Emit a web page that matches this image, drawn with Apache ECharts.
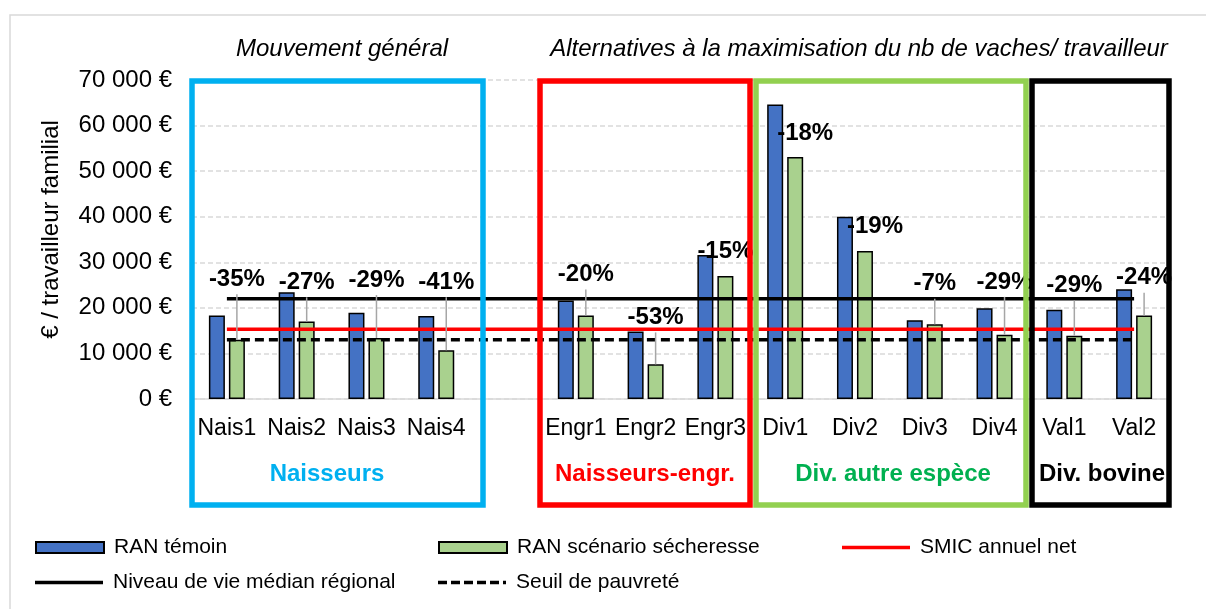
<!DOCTYPE html>
<html lang="fr">
<head>
<meta charset="utf-8">
<title>Revenu disponible par travailleur familial</title>
<script src="https://cdn.jsdelivr.net/npm/echarts@6/dist/echarts.min.js"></script>
<style>
  html, body { margin: 0; padding: 0; background: #ffffff; }
  #chart { width: 1206px; height: 609px; }
</style>
</head>
<body>
<div id="chart"></div>
<script>
// ---- Données ----
const categories = ['Nais1', 'Nais2', 'Nais3', 'Nais4', '', 'Engr1', 'Engr2', 'Engr3',
                    'Div1', 'Div2', 'Div3', 'Div4', 'Val1', 'Val2'];
// Revenu disponible (€ / travailleur familial)
const ranTemoin     = [18300, 23400, 18900, 18200, null, 21600, 14800, 31600, 64600, 40000, 17300, 19900, 19600, 24100];
const ranSecheresse = [13000, 17000, 13400, 10700, null, 18300,  7600, 27000, 53100, 32500, 16400, 14100, 13900, 18300];
// Références de revenu
const smicNet         = [15300, 15300, 15300, 15300, 15300, 15300, 15300, 15300, 15300, 15300, 15300, 15300, 15300, 15300];
const niveauVieMedian = [22000, 22000, 22000, 22000, 22000, 22000, 22000, 22000, 22000, 22000, 22000, 22000, 22000, 22000];
const seuilPauvrete   = [13000, 13000, 13000, 13000, 13000, 13000, 13000, 13000, 13000, 13000, 13000, 13000, 13000, 13000];
// Écart du scénario sécheresse par rapport au témoin
const ecarts = ['-35%', '-27%', '-29%', '-41%', null, '-20%', '-53%', '-15%', '-18%', '-19%', '-7%', '-29%', '-29%', '-24%'];

// ---- Mise en page des étiquettes d'écart (hauteur de l'étiquette, en €) ----
const hauteurEtiquette = [26300, 25600, 26100, 25600, null, 27300, 17900, 32400, 58200, 37800, 25300, 25700, 24900, 26600];

const FONT = '"Liberation Sans", Arial, sans-serif';
const BAR_W = 16, BAR_GAP = 4;

// Pictogrammes de légende pour les séries en trait
const ICON_TRAIT = 'path://M0,0H68V3.5H0Z';
const ICON_TIRETS = 'path://M0,0H9V3.5H0Z M13,0H22V3.5H13Z M26,0H35V3.5H26Z M39,0H48V3.5H39Z M52,0H61V3.5H52Z M65,0H68V3.5H65Z';

function euros(v) {
  return String(v).replace(/\B(?=(\d{3})+(?!\d))/g, ' ') + ' €';
}

const chart = echarts.init(document.getElementById('chart'), null, { renderer: 'canvas' });

const etiquettes = categories.map((c, i) => [i, ranSecheresse[i], hauteurEtiquette[i], ranTemoin[i]]);

function renderEcart(params, api) {
  const i = api.value(0);
  const txt = ecarts[i];
  if (txt == null) return null;
  const barTop = api.coord([i, api.value(1)]);
  const lab = api.coord([i, api.value(2)]);
  let x = barTop[0] + (BAR_W + BAR_GAP) / 2;
  // l'étiquette se décale à droite lorsqu'elle chevauche la barre témoin
  if (api.value(2) < api.value(3)) x += 10;
  const children = [];
  if (barTop[1] - lab[1] > 30) {
    children.push({
      type: 'line',
      shape: { x1: x, y1: lab[1] + 15, x2: x, y2: barTop[1] },
      style: { stroke: '#a6a6a6', lineWidth: 1.5 }
    });
  }
  children.push({
    type: 'text',
    x: x, y: lab[1],
    style: {
      text: txt, fill: '#000', align: 'center', verticalAlign: 'middle',
      font: 'bold 24px ' + FONT
    }
  });
  return { type: 'group', children };
}

function legende(name, left, top, icon, h) {
  return {
    data: [{ name, icon }], left, top, orient: 'horizontal', padding: 0,
    itemWidth: 68, itemHeight: h, selectedMode: false, symbolKeepAspect: false,
    textStyle: { fontFamily: FONT, fontSize: 21, color: '#000', padding: [0, 0, 0, 5] }
  };
}

function cadre(x, w, color) {
  return {
    type: 'rect', z: 100,
    shape: { x: x, y: 81, width: w, height: 424 },
    style: { fill: 'none', stroke: color, lineWidth: 5.5 }
  };
}

function texte(str, x, y, font, color) {
  return {
    type: 'text', z: 101, x, y,
    style: { text: str, fill: color, font, align: 'center', verticalAlign: 'middle' }
  };
}

const legendeTrait = (name, left, top, icon) => {
  const l = legende(name, left, top, icon, 3.5);
  l.itemStyle = { borderWidth: 0 };
  return l;
};

const option = {
  backgroundColor: '#ffffff',
  animation: false,
  textStyle: { fontFamily: FONT },
  grid: { left: 192, right: 37, top: 80, bottom: 210, containLabel: false },
  legend: [
    legende('RAN témoin', 35, 537, 'rect', 11),
    legende('RAN scénario sécheresse', 438, 537, 'rect', 11),
    legendeTrait('SMIC annuel net', 842, 537, ICON_TRAIT),
    legendeTrait('Niveau de vie médian régional', 35, 572, ICON_TRAIT),
    legendeTrait('Seuil de pauvreté', 438, 572, ICON_TIRETS)
  ],
  xAxis: {
    type: 'category',
    data: categories,
    axisTick: { show: false },
    axisLine: { lineStyle: { color: '#d9d9d9', width: 1.5 } },
    axisLabel: { interval: 0, margin: 18, fontSize: 23, color: '#000', fontFamily: FONT },
    splitLine: { show: false }
  },
  yAxis: {
    type: 'value',
    min: 0, max: 70000, interval: 10000,
    name: '€ / travailleur familial',
    nameLocation: 'middle',
    nameGap: 129,
    nameTextStyle: { fontSize: 24, color: '#000', fontFamily: FONT, padding: [0, 0, 0, 20] },
    axisLine: { show: false },
    axisTick: { show: false },
    axisLabel: { margin: 20, fontSize: 24, color: '#000', fontFamily: FONT, formatter: euros },
    splitLine: { lineStyle: { color: '#d9d9d9', width: 1.5, type: [5, 3] } }
  },
  series: [
    {
      name: 'RAN témoin', type: 'bar', data: ranTemoin,
      barWidth: BAR_W, barGap: (BAR_GAP / BAR_W * 100) + '%',
      itemStyle: { color: '#4472c4', borderColor: '#000', borderWidth: 1.5 }
    },
    {
      name: 'RAN scénario sécheresse', type: 'bar', data: ranSecheresse,
      barWidth: BAR_W,
      itemStyle: { color: '#a9d18e', borderColor: '#000', borderWidth: 1.5 }
    },
    {
      name: 'SMIC annuel net', type: 'line', data: smicNet,
      symbol: 'none', lineStyle: { color: '#ff0000', width: 3.5 }, itemStyle: { color: '#ff0000' }
    },
    {
      name: 'Niveau de vie médian régional', type: 'line', data: niveauVieMedian,
      symbol: 'none', lineStyle: { color: '#000', width: 3.5 }, itemStyle: { color: '#000' }
    },
    {
      name: 'Seuil de pauvreté', type: 'line', data: seuilPauvrete,
      symbol: 'none', lineStyle: { color: '#000', width: 3.5, type: [9, 5] }, itemStyle: { color: '#000' }
    },
    {
      name: 'écarts', type: 'custom', data: etiquettes,
      renderItem: renderEcart, z: 5, clip: false,
      encode: { x: 0, y: 2 }
    }
  ],
  graphic: [
    // cadre général
    { type: 'rect', z: 0, shape: { x: 10, y: 15, width: 1230, height: 640 },
      style: { fill: 'none', stroke: '#d9d9d9', lineWidth: 1.5 } },
    // groupes d'exploitations
    cadre(192, 291, '#00b0f0'),
    cadre(540, 210, '#ff0000'),
    cadre(756, 270, '#92d050'),
    cadre(1032, 137, '#000000'),
    texte('Mouvement général', 342, 49, 'italic 24px ' + FONT, '#000'),
    texte('Alternatives à la maximisation du nb de vaches/ travailleur', 859, 49, 'italic 24px ' + FONT, '#000'),
    texte('Naisseurs', 327, 474, 'bold 24px ' + FONT, '#00b0f0'),
    texte('Naisseurs-engr.', 645, 474, 'bold 24px ' + FONT, '#ff0000'),
    texte('Div. autre espèce', 893, 474, 'bold 24px ' + FONT, '#00b050'),
    texte('Div. bovine', 1102, 474, 'bold 24px ' + FONT, '#000')
  ]
};

chart.setOption(option);
</script>
</body>
</html>
